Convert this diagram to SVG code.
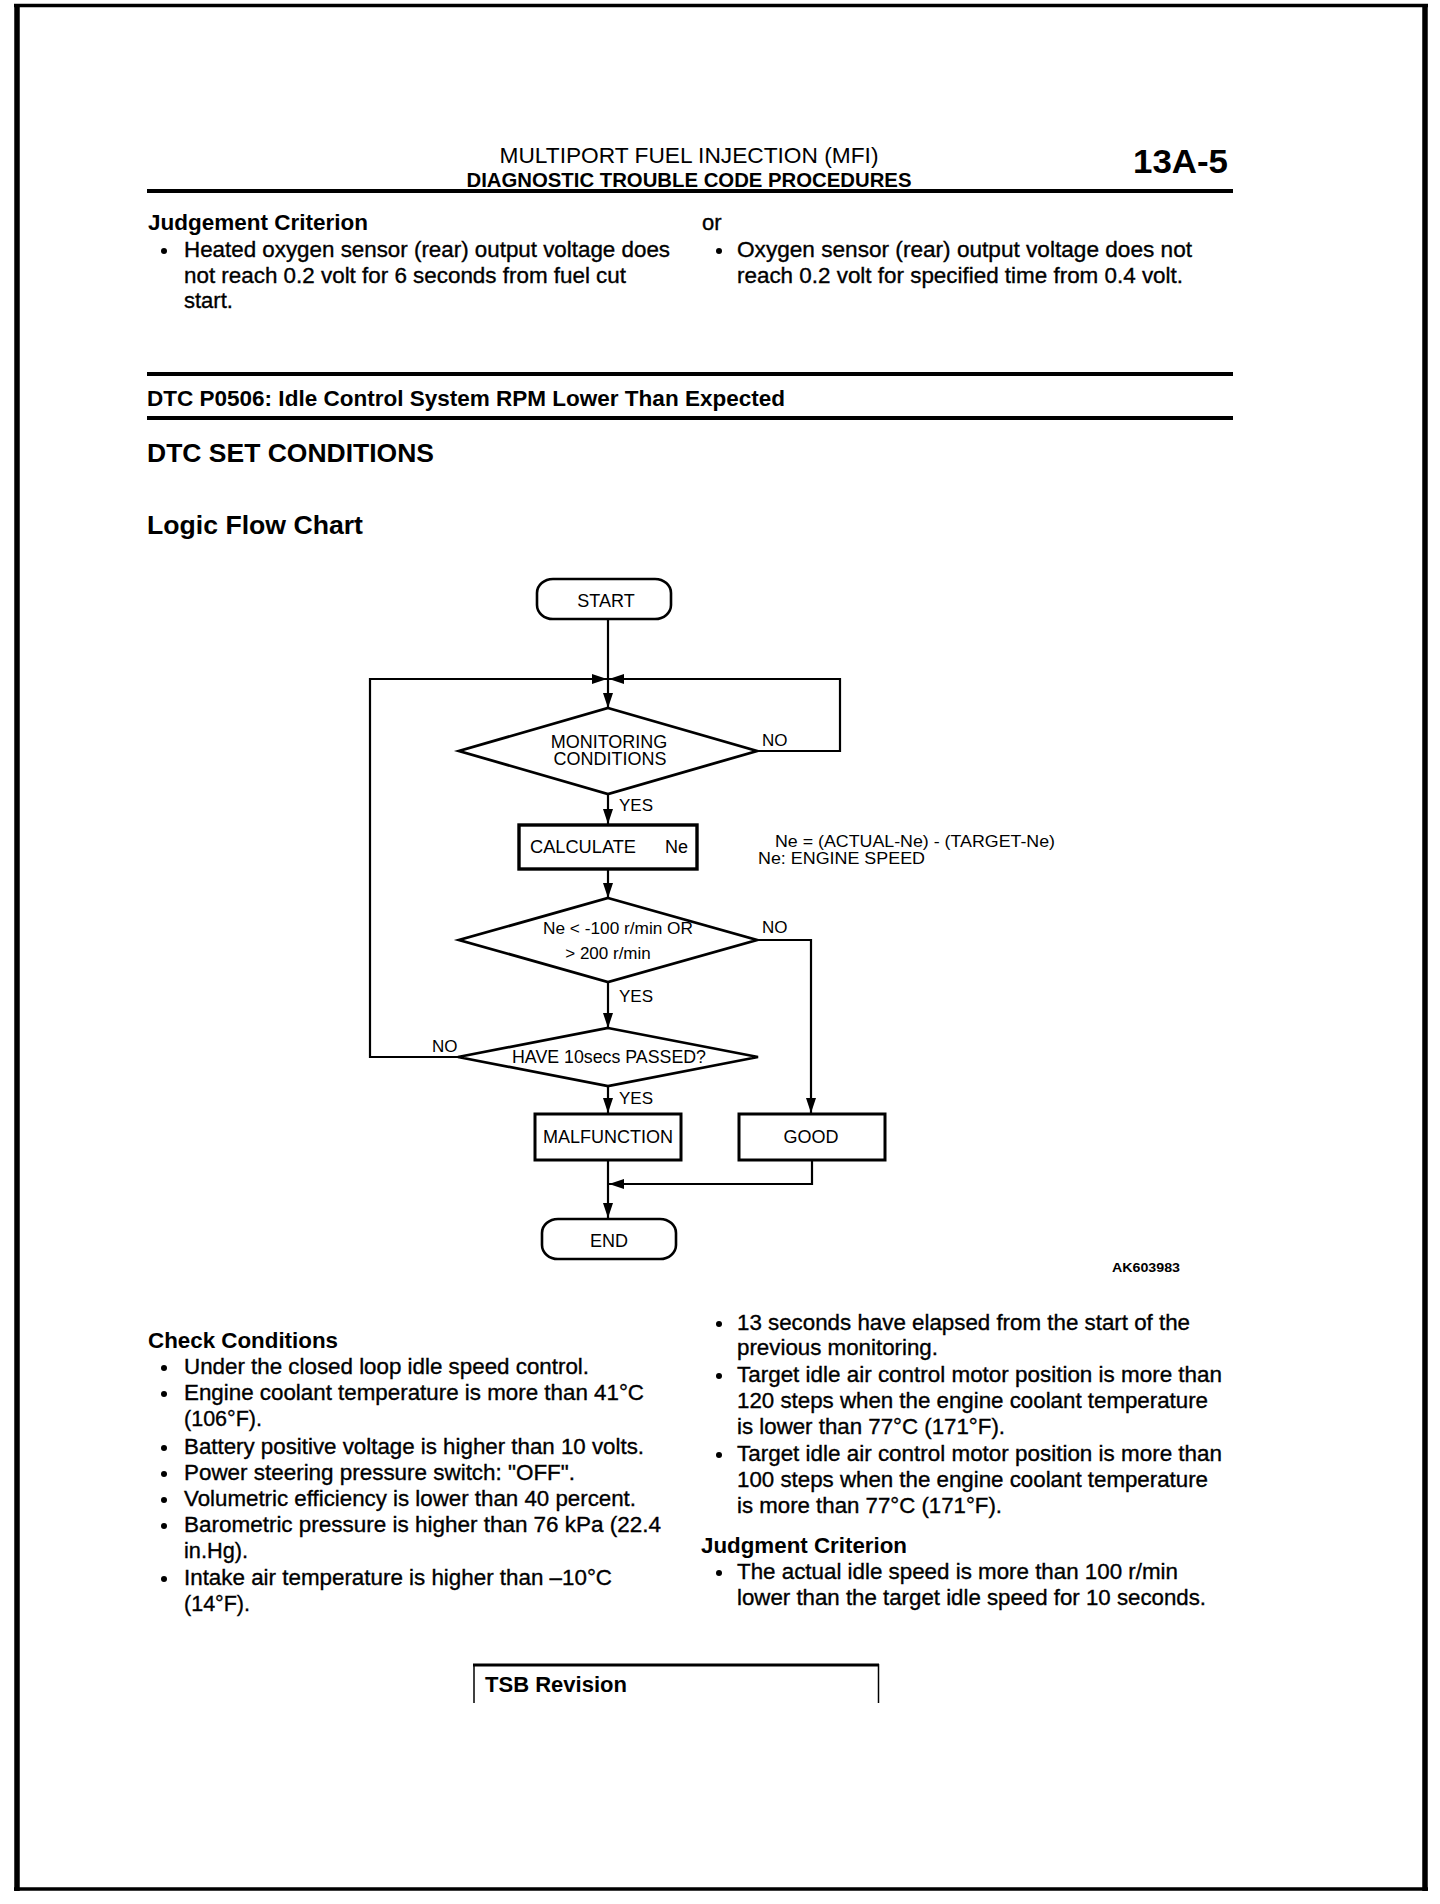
<svg xmlns="http://www.w3.org/2000/svg" width="1440" height="1904" viewBox="0 0 1440 1904">
<style>
text{font-family:"Liberation Sans",Arial,Helvetica,sans-serif;fill:#000}
.b{font-weight:bold}
.body{font-size:22px;stroke:#000;stroke-width:0.35}
.hd{font-size:22px;font-weight:bold}
.fc{font-size:18px}
.lbl{font-size:17px}
.rule{stroke:#000;stroke-width:4}
.node{fill:#fff;stroke:#000}
.conn{fill:none;stroke:#000;stroke-width:2.2}
</style>
<defs>
<marker id="ah" markerUnits="userSpaceOnUse" markerWidth="15" markerHeight="10" refX="15" refY="5" orient="auto"><path d="M0,0 L15,5 L0,10 z" fill="#000"/></marker>
</defs>
<rect x="0" y="0" width="1440" height="1904" fill="#fff"/>
<g id="page-border" stroke="#000" fill="none">
<line x1="14" y1="5.5" x2="1428" y2="5.5" stroke-width="3.5"/>
<line x1="14" y1="1889" x2="1428" y2="1889" stroke-width="3.5"/>
<line x1="17" y1="4" x2="17" y2="1891" stroke-width="5.5"/>
<line x1="1425" y1="4" x2="1425" y2="1891" stroke-width="5.5"/>
</g>
<g id="header">
<text x="689" y="163" text-anchor="middle" font-size="22" textLength="379" lengthAdjust="spacingAndGlyphs">MULTIPORT FUEL INJECTION (MFI)</text>
<text x="689" y="187" text-anchor="middle" class="b" font-size="20" textLength="445" lengthAdjust="spacingAndGlyphs">DIAGNOSTIC TROUBLE CODE PROCEDURES</text>
<text x="1133" y="173" class="b" font-size="34" textLength="95" lengthAdjust="spacingAndGlyphs">13A-5</text>
<line class="rule" x1="147" y1="191" x2="1233" y2="191"/>
</g>
<g id="top-left">
<text x="148" y="230" class="hd" textLength="220" lengthAdjust="spacingAndGlyphs">Judgement Criterion</text>
<circle cx="164" cy="251" r="3"/>
<text x="184" y="257" class="body" textLength="486" lengthAdjust="spacingAndGlyphs">Heated oxygen sensor (rear) output voltage does</text>
<text x="184" y="283" class="body" textLength="442" lengthAdjust="spacingAndGlyphs">not reach 0.2 volt for 6 seconds from fuel cut</text>
<text x="184" y="308" class="body">start.</text>
</g>
<g id="top-right">
<text x="702" y="230" class="body">or</text>
<circle cx="719" cy="251" r="3"/>
<text x="737" y="257" class="body" textLength="455" lengthAdjust="spacingAndGlyphs">Oxygen sensor (rear) output voltage does not</text>
<text x="737" y="283" class="body" textLength="446" lengthAdjust="spacingAndGlyphs">reach 0.2 volt for specified time from 0.4 volt.</text>
</g>
<g id="dtc-title">
<line class="rule" x1="147" y1="374" x2="1233" y2="374"/>
<text x="147" y="406" class="hd" textLength="638" lengthAdjust="spacingAndGlyphs">DTC P0506: Idle Control System RPM Lower Than Expected</text>
<line class="rule" x1="147" y1="418" x2="1233" y2="418"/>
<text x="147" y="462" class="b" font-size="26" textLength="287" lengthAdjust="spacingAndGlyphs">DTC SET CONDITIONS</text>
<text x="147" y="534" class="b" font-size="26" textLength="216" lengthAdjust="spacingAndGlyphs">Logic Flow Chart</text>
</g>
<g id="connectors">
<path class="conn" d="M608,619 V708" marker-end="url(#ah)"/>
<path class="conn" d="M458,1057 H370 V679 H607" marker-end="url(#ah)"/>
<path class="conn" d="M757,751 H840 V679 H609" marker-end="url(#ah)"/>
<path class="conn" d="M608,794 V824" marker-end="url(#ah)"/>
<path class="conn" d="M608,869 V898" marker-end="url(#ah)"/>
<path class="conn" d="M757,940 H811 V1113" marker-end="url(#ah)"/>
<path class="conn" d="M608,982 V1028" marker-end="url(#ah)"/>
<path class="conn" d="M608,1086 V1113" marker-end="url(#ah)"/>
<path class="conn" d="M608,1160 V1218" marker-end="url(#ah)"/>
<path class="conn" d="M812,1160 V1184 H609" marker-end="url(#ah)"/>
</g>
<g id="start">
<rect class="node" x="537" y="579" width="134" height="40" rx="16" ry="14" stroke-width="2.6"/>
<text x="606" y="607" class="fc" text-anchor="middle">START</text>
</g>
<g id="monitoring">
<polygon class="node" points="608,708 757,751 608,794 459,751" stroke-width="2.8"/>
<text x="609" y="748" class="fc" text-anchor="middle">MONITORING</text>
<text x="610" y="765" class="fc" text-anchor="middle">CONDITIONS</text>
</g>
<g id="calculate">
<rect class="node" x="519" y="825" width="178" height="44" stroke-width="3.4"/>
<text x="530" y="853" class="fc" textLength="106" lengthAdjust="spacingAndGlyphs">CALCULATE</text>
<text x="665" y="853" class="fc">Ne</text>
</g>
<g id="ne-note">
<text x="775" y="847" font-size="16" textLength="280" lengthAdjust="spacingAndGlyphs">Ne = (ACTUAL-Ne) - (TARGET-Ne)</text>
<text x="758" y="864" font-size="16" textLength="167" lengthAdjust="spacingAndGlyphs">Ne: ENGINE SPEED</text>
</g>
<g id="ne-range">
<polygon class="node" points="608,898 757,940 608,982 459,940" stroke-width="2.8"/>
<text x="618" y="934" font-size="17" text-anchor="middle" textLength="150" lengthAdjust="spacingAndGlyphs">Ne &lt; -100 r/min OR</text>
<text x="608" y="959" font-size="17" text-anchor="middle">&gt; 200 r/min</text>
</g>
<g id="ten-secs">
<polygon class="node" points="608,1028 758,1057 608,1086 458,1057" stroke-width="2.8"/>
<text x="609" y="1063" class="fc" text-anchor="middle" textLength="194" lengthAdjust="spacingAndGlyphs">HAVE 10secs PASSED?</text>
</g>
<g id="malfunction">
<rect class="node" x="535" y="1114" width="146" height="46" stroke-width="3"/>
<text x="608" y="1143" class="fc" text-anchor="middle">MALFUNCTION</text>
</g>
<g id="good">
<rect class="node" x="739" y="1114" width="146" height="46" stroke-width="3"/>
<text x="811" y="1143" class="fc" text-anchor="middle">GOOD</text>
</g>
<g id="end">
<rect class="node" x="542" y="1219" width="134" height="40" rx="16" ry="14" stroke-width="2.6"/>
<text x="609" y="1247" class="fc" text-anchor="middle">END</text>
</g>
<g id="flow-labels">
<text x="762" y="746" class="lbl">NO</text>
<text x="619" y="811" class="lbl">YES</text>
<text x="762" y="933" class="lbl">NO</text>
<text x="619" y="1002" class="lbl">YES</text>
<text x="432" y="1052" class="lbl">NO</text>
<text x="619" y="1104" class="lbl">YES</text>
</g>
<text x="1112" y="1272" class="b" font-size="13" textLength="68" lengthAdjust="spacingAndGlyphs">AK603983</text>
<g id="check-conditions">
<text x="148" y="1348" class="hd" textLength="190" lengthAdjust="spacingAndGlyphs">Check Conditions</text>
<circle cx="164" cy="1368" r="3"/>
<text x="184" y="1374" class="body" textLength="405" lengthAdjust="spacingAndGlyphs">Under the closed loop idle speed control.</text>
<circle cx="164" cy="1394" r="3"/>
<text x="184" y="1400" class="body" textLength="460" lengthAdjust="spacingAndGlyphs">Engine coolant temperature is more than 41°C</text>
<text x="184" y="1426" class="body" textLength="78" lengthAdjust="spacingAndGlyphs">(106°F).</text>
<circle cx="164" cy="1448" r="3"/>
<text x="184" y="1454" class="body" textLength="460" lengthAdjust="spacingAndGlyphs">Battery positive voltage is higher than 10 volts.</text>
<circle cx="164" cy="1474" r="3"/>
<text x="184" y="1480" class="body" textLength="391" lengthAdjust="spacingAndGlyphs">Power steering pressure switch: "OFF".</text>
<circle cx="164" cy="1500" r="3"/>
<text x="184" y="1506" class="body" textLength="452" lengthAdjust="spacingAndGlyphs">Volumetric efficiency is lower than 40 percent.</text>
<circle cx="164" cy="1526" r="3"/>
<text x="184" y="1532" class="body" textLength="477" lengthAdjust="spacingAndGlyphs">Barometric pressure is higher than 76 kPa (22.4</text>
<text x="184" y="1558" class="body" textLength="64" lengthAdjust="spacingAndGlyphs">in.Hg).</text>
<circle cx="164" cy="1579" r="3"/>
<text x="184" y="1585" class="body" textLength="428" lengthAdjust="spacingAndGlyphs">Intake air temperature is higher than –10°C</text>
<text x="184" y="1611" class="body" textLength="66" lengthAdjust="spacingAndGlyphs">(14°F).</text>
</g>
<g id="right-conditions">
<circle cx="719" cy="1324" r="3"/>
<text x="737" y="1330" class="body" textLength="453" lengthAdjust="spacingAndGlyphs">13 seconds have elapsed from the start of the</text>
<text x="737" y="1355" class="body" textLength="201" lengthAdjust="spacingAndGlyphs">previous monitoring.</text>
<circle cx="719" cy="1376" r="3"/>
<text x="737" y="1382" class="body" textLength="485" lengthAdjust="spacingAndGlyphs">Target idle air control motor position is more than</text>
<text x="737" y="1408" class="body" textLength="471" lengthAdjust="spacingAndGlyphs">120 steps when the engine coolant temperature</text>
<text x="737" y="1434" class="body" textLength="268" lengthAdjust="spacingAndGlyphs">is lower than 77°C (171°F).</text>
<circle cx="719" cy="1455" r="3"/>
<text x="737" y="1461" class="body" textLength="485" lengthAdjust="spacingAndGlyphs">Target idle air control motor position is more than</text>
<text x="737" y="1487" class="body" textLength="471" lengthAdjust="spacingAndGlyphs">100 steps when the engine coolant temperature</text>
<text x="737" y="1513" class="body" textLength="265" lengthAdjust="spacingAndGlyphs">is more than 77°C (171°F).</text>
<text x="701" y="1553" class="hd" textLength="206" lengthAdjust="spacingAndGlyphs">Judgment Criterion</text>
<circle cx="719" cy="1573" r="3"/>
<text x="737" y="1579" class="body" textLength="441" lengthAdjust="spacingAndGlyphs">The actual idle speed is more than 100 r/min</text>
<text x="737" y="1605" class="body" textLength="469" lengthAdjust="spacingAndGlyphs">lower than the target idle speed for 10 seconds.</text>
</g>
<g id="tsb-revision">
<line x1="473" y1="1665" x2="879" y2="1665" stroke="#000" stroke-width="3"/>
<line x1="474" y1="1664" x2="474" y2="1703" stroke="#000" stroke-width="1.5"/>
<line x1="878.5" y1="1664" x2="878.5" y2="1703" stroke="#000" stroke-width="1.5"/>
<text x="485" y="1692" class="hd" textLength="142" lengthAdjust="spacingAndGlyphs">TSB Revision</text>
</g>
</svg>
